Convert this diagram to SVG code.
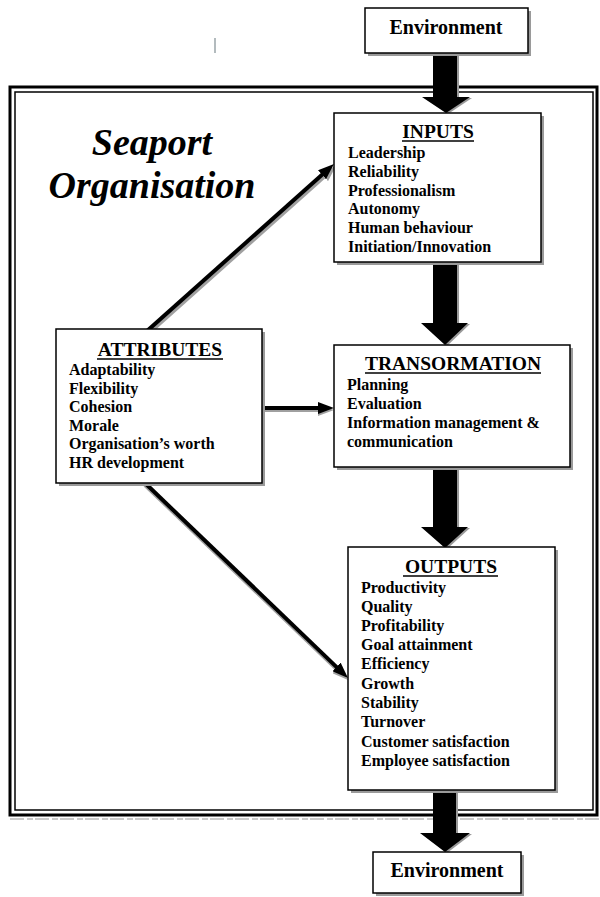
<svg xmlns="http://www.w3.org/2000/svg" width="600" height="897" viewBox="0 0 600 897">
<defs>
<style>
.t{font-family:"Liberation Serif","Times New Roman",serif;font-weight:bold;fill:#000}
.item{font-size:16px}
.ttl{font-size:19.5px}
.box{fill:#fff;stroke:#000;stroke-width:1.5}
.shd{fill:#9a9a9a}
.ul{stroke:#000;stroke-width:1.5}
.conn{stroke:#000;stroke-width:4;fill:none}
.cshd{stroke:#a0a0a0;stroke-width:4;fill:none}
.blk{fill:#000}
</style>
<marker id="ah" viewBox="0 0 16 12" refX="6" refY="6" markerWidth="16" markerHeight="12" orient="auto" markerUnits="userSpaceOnUse">
<path d="M0,0 L16,6 L0,12 z" fill="#000"/>
</marker>
<marker id="ahs" viewBox="0 0 16 12" refX="6" refY="6" markerWidth="16" markerHeight="12" orient="auto" markerUnits="userSpaceOnUse">
<path d="M0,0 L16,6 L0,12 z" fill="#a0a0a0"/>
</marker>
</defs>
<rect width="600" height="897" fill="#fff"/>
<line x1="215" y1="38" x2="215" y2="53" stroke="#9aa4a8" stroke-width="1.5"/>
<g id="frame">
<rect x="10" y="87" width="587" height="728" fill="none" stroke="#000" stroke-width="3"/>
<rect x="15" y="92" width="578" height="718" fill="none" stroke="#000" stroke-width="1.5"/>
<line x1="10" y1="819" x2="600" y2="819" stroke="#bbb" stroke-width="1.5" stroke-dasharray="14 3 6 2"/>
</g>
<g id="title">
<text class="t" x="152" y="155" font-size="38" font-style="italic" text-anchor="middle">Seaport</text>
<text class="t" x="152" y="198" font-size="38" font-style="italic" text-anchor="middle">Organisation</text>
</g>
<g id="connectors">
<polygon class="shd" points="435,54 459,54 459,98 472,98 448,114 424,98 435,98"/>
<polygon class="blk" points="433,53 457,53 457,97 470,97 446,113 422,97 433,97"/>
<polygon class="shd" points="435,263 459,263 459,324 470,324 447,346 423,324 435,324"/>
<polygon class="blk" points="433,262 457,262 457,323 468,323 445,345 421,323 433,323"/>
<polygon class="shd" points="435,468 459,468 459,528 470,528 447,549 423,528 435,528"/>
<polygon class="blk" points="433,467 457,467 457,527 468,527 445,548 421,527 433,527"/>
<polygon class="shd" points="435,791 458,791 458,834 472,834 447,853 422,834 435,834"/>
<polygon class="blk" points="433,790 456,790 456,833 470,833 445,852 420,833 433,833"/>
<line class="cshd" x1="149" y1="333" x2="328.5" y2="172.7" marker-end="url(#ahs)"/>
<line class="conn" x1="147" y1="331" x2="326.5" y2="170.7" marker-end="url(#ah)"/>
<line class="cshd" x1="262" y1="410" x2="324" y2="410" marker-end="url(#ahs)"/>
<line class="conn" x1="262" y1="408" x2="324" y2="408" marker-end="url(#ah)"/>
<line class="cshd" x1="145" y1="485" x2="340.8" y2="673.1" marker-end="url(#ahs)"/>
<line class="conn" x1="145" y1="483" x2="340.8" y2="671.1" marker-end="url(#ah)"/>
</g>
<g id="env-top">
<rect class="shd" x="368" y="11" width="163" height="45"/>
<rect class="box" x="365" y="8" width="163" height="45"/>
<text class="t" x="446" y="34" font-size="20" text-anchor="middle">Environment</text>
</g>
<g id="inputs">
<rect class="shd" x="337" y="116" width="207" height="149"/>
<rect class="box" x="334" y="113" width="207" height="149"/>
<text class="t ttl" x="438" y="138" text-anchor="middle">INPUTS</text>
<line class="ul" x1="402" y1="141" x2="474" y2="141"/>
<text class="t item" x="348" y="158">Leadership</text>
<text class="t item" x="348" y="177">Reliability</text>
<text class="t item" x="348" y="196">Professionalism</text>
<text class="t item" x="348" y="214">Autonomy</text>
<text class="t item" x="348" y="233">Human behaviour</text>
<text class="t item" x="348" y="252">Initiation/Innovation</text>
</g>
<g id="attributes">
<rect class="shd" x="59" y="332" width="206" height="154"/>
<rect class="box" x="56" y="329" width="206" height="154"/>
<text class="t ttl" x="160" y="356" text-anchor="middle">ATTRIBUTES</text>
<line class="ul" x1="97" y1="359" x2="223" y2="359"/>
<text class="t item" x="69" y="375">Adaptability</text>
<text class="t item" x="69" y="394">Flexibility</text>
<text class="t item" x="69" y="412">Cohesion</text>
<text class="t item" x="69" y="431">Morale</text>
<text class="t item" x="69" y="449">Organisation’s worth</text>
<text class="t item" x="69" y="468">HR development</text>
</g>
<g id="transformation">
<rect class="shd" x="337" y="348" width="236" height="122"/>
<rect class="box" x="334" y="345" width="236" height="122"/>
<text class="t ttl" x="453" y="370" text-anchor="middle">TRANSORMATION</text>
<line class="ul" x1="365" y1="373" x2="541" y2="373"/>
<text class="t item" x="347" y="390">Planning</text>
<text class="t item" x="347" y="409">Evaluation</text>
<text class="t item" x="347" y="428">Information management &amp;</text>
<text class="t item" x="347" y="447">communication</text>
</g>
<g id="outputs">
<rect class="shd" x="351" y="550" width="207" height="243"/>
<rect class="box" x="348" y="547" width="207" height="243"/>
<text class="t ttl" x="451" y="573" text-anchor="middle">OUTPUTS</text>
<line class="ul" x1="403" y1="576" x2="498" y2="576"/>
<text class="t item" x="361" y="593">Productivity</text>
<text class="t item" x="361" y="612">Quality</text>
<text class="t item" x="361" y="631">Profitability</text>
<text class="t item" x="361" y="650">Goal attainment</text>
<text class="t item" x="361" y="669">Efficiency</text>
<text class="t item" x="361" y="689">Growth</text>
<text class="t item" x="361" y="708">Stability</text>
<text class="t item" x="361" y="727">Turnover</text>
<text class="t item" x="361" y="747">Customer satisfaction</text>
<text class="t item" x="361" y="766">Employee satisfaction</text>
</g>
<g id="env-bottom">
<rect class="shd" x="376" y="855" width="148" height="41"/>
<rect class="box" x="373" y="852" width="148" height="41"/>
<text class="t" x="447" y="877" font-size="20" text-anchor="middle">Environment</text>
</g>
</svg>
